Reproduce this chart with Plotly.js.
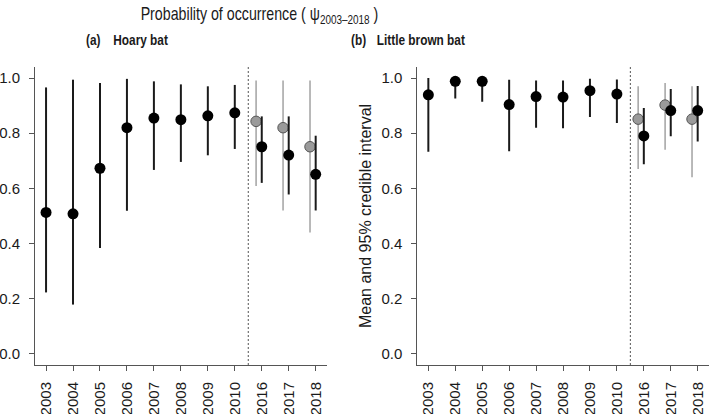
<!DOCTYPE html>
<html>
<head>
<meta charset="utf-8">
<script src="https://cdn.plot.ly/plotly-3.0.1.min.js"></script>
<style>html,body{margin:0;padding:0;background:#fff;}#chart{width:709px;height:414px;}</style>
</head>
<body>
<div id="chart"></div>
<script>
// ---- data ----
const years = ['2003','2004','2005','2006','2007','2008','2009','2010','2016','2017','2018'];

const hoaryMean = [0.513,0.508,0.673,0.820,0.855,0.849,0.863,0.874,0.751,0.721,0.651];
const hoaryLow  = [0.223,0.179,0.384,0.519,0.667,0.696,0.720,0.743,0.620,0.578,0.520];
const hoaryHigh = [0.966,0.994,0.982,0.997,0.988,0.977,0.970,0.975,0.861,0.861,0.791];

const altYears = ['2016','2017','2018'];
const hoaryAltMean = [0.843,0.820,0.751];
const hoaryAltLow  = [0.609,0.520,0.440];
const hoaryAltHigh = [0.991,0.991,0.991];

const lbbMean = [0.939,0.988,0.988,0.904,0.933,0.931,0.954,0.942,0.790,0.882,0.882];
const lbbLow  = [0.733,0.926,0.914,0.735,0.820,0.818,0.859,0.837,0.688,0.789,0.770];
const lbbHigh = [1.000,0.998,0.999,0.994,0.991,0.991,0.997,0.995,0.891,0.960,0.971];

const lbbAltMean = [0.851,0.902,0.851];
const lbbAltLow  = [0.670,0.740,0.640];
const lbbAltHigh = [0.970,0.982,0.970];

const yTicks = [0,0.2,0.4,0.6,0.8,1.0];
const yTickText = ['0.0','0.2','0.4','0.6','0.8','1.0'];

// ---- helpers ----
const W = 709, H = 414;
const idx = years.map((_, i) => i);
const altIdx = altYears.map(y => years.indexOf(y) - 0.21);
const plus = (hi, m) => hi.map((v, i) => v - m[i]);
const minus = (lo, m) => m.map((v, i) => v - lo[i]);

function blackTrace(mean, lo, hi, xa, ya) {
  return {
    x: idx, y: mean, xaxis: xa, yaxis: ya, type: 'scatter', mode: 'markers',
    marker: {color: '#000', size: 11, line: {width: 0}},
    error_y: {type: 'data', symmetric: false, array: plus(hi, mean), arrayminus: minus(lo, mean),
              width: 0, thickness: 2, color: '#1a1a1a'},
    showlegend: false, hoverinfo: 'skip'
  };
}
function greyTrace(mean, lo, hi, xa, ya) {
  return {
    x: altIdx, y: mean, xaxis: xa, yaxis: ya, type: 'scatter', mode: 'markers',
    marker: {color: '#9a9a9a', size: 10.5, line: {width: 1, color: '#555'}},
    error_y: {type: 'data', symmetric: false, array: plus(hi, mean), arrayminus: minus(lo, mean),
              width: 0, thickness: 1.6, color: '#a8a8a8'},
    showlegend: false, hoverinfo: 'skip'
  };
}

const data = [
  greyTrace(hoaryAltMean, hoaryAltLow, hoaryAltHigh, 'x', 'y'),
  blackTrace(hoaryMean, hoaryLow, hoaryHigh, 'x', 'y'),
  greyTrace(lbbAltMean, lbbAltLow, lbbAltHigh, 'x2', 'y2'),
  blackTrace(lbbMean, lbbLow, lbbHigh, 'x2', 'y2')
];

const tickFont = {family: 'Liberation Sans, Arial, sans-serif', size: 15, color: '#1a1a1a'};
const yDom = [(H - 365) / H, (H - 67) / H];

function xAxis(d, anchor) {
  return {
    domain: d, anchor: anchor, range: [-0.41, 10.42],
    tickmode: 'array', tickvals: idx, ticktext: years, tickangle: -90,
    ticks: 'outside', ticklen: 5, tickcolor: '#555', tickwidth: 1,
    showline: true, linecolor: '#555', linewidth: 1,
    showgrid: false, zeroline: false, tickfont: tickFont, ticklabelstandoff: 5
  };
}
function yAxis(anchor) {
  return {
    domain: yDom, anchor: anchor, range: [-0.04, 1.04],
    tickmode: 'array', tickvals: yTicks, ticktext: yTickText,
    ticks: 'outside', ticklen: 5, tickcolor: '#555', tickwidth: 1,
    showline: true, linecolor: '#555', linewidth: 1,
    showgrid: false, zeroline: false, tickfont: tickFont, ticklabelstandoff: 6
  };
}

const sans = 'Liberation Sans, Arial, sans-serif';
const condensed = 0.79;  // reference uses a narrow face; emulate by horizontal compression

const layout = {
  width: W, height: H,
  margin: {l: 0, r: 0, t: 0, b: 0},
  paper_bgcolor: '#fff', plot_bgcolor: '#fff',
  xaxis: xAxis([35 / W, 327 / W], 'y'),
  yaxis: yAxis('x'),
  xaxis2: xAxis([417.3 / W, 1], 'y2'),
  yaxis2: yAxis('x2'),
  shapes: [
    {type: 'line', xref: 'x', yref: 'y', x0: 7.5, x1: 7.5, y0: -0.04, y1: 1.04,
     line: {color: '#555', width: 1, dash: '2px,2px'}},
    {type: 'line', xref: 'x2', yref: 'y2', x0: 7.5, x1: 7.5, y0: -0.04, y1: 1.04,
     line: {color: '#555', width: 1, dash: '2px,2px'}}
  ],
  annotations: [
    {text: 'Probability of occurrence ( ψ<sub>2003–2018</sub> )',
     xref: 'paper', yref: 'paper', x: 259 / W, y: (H - 15) / H, xanchor: 'center', yanchor: 'middle',
     showarrow: false, font: {family: sans, size: 18, color: '#1a1a1a'}},
    {text: '<b>(a)</b>', xref: 'paper', yref: 'paper', x: 93.5 / W, y: (H - 40) / H,
     xanchor: 'center', yanchor: 'middle', showarrow: false, font: {family: sans, size: 15, color: '#1a1a1a'}},
    {text: '<b>Hoary bat</b>', xref: 'paper', yref: 'paper', x: 140 / W, y: (H - 40) / H,
     xanchor: 'center', yanchor: 'middle', showarrow: false, font: {family: sans, size: 15, color: '#1a1a1a'}},
    {text: '<b>(b)</b>', xref: 'paper', yref: 'paper', x: 358.3 / W, y: (H - 40) / H,
     xanchor: 'center', yanchor: 'middle', showarrow: false, font: {family: sans, size: 15, color: '#1a1a1a'}},
    {text: '<b>Little brown bat</b>', xref: 'paper', yref: 'paper', x: 421.2 / W, y: (H - 40) / H,
     xanchor: 'center', yanchor: 'middle', showarrow: false, font: {family: sans, size: 15, color: '#1a1a1a'}},
    {text: 'Mean and 95% credible interval', xref: 'paper', yref: 'paper', x: 365 / W, y: (H - 216) / H,
     xanchor: 'center', yanchor: 'middle', textangle: -90, showarrow: false,
     font: {family: sans, size: 16, color: '#1a1a1a'}}
  ]
};

Plotly.newPlot('chart', data, layout, {displayModeBar: false, staticPlot: true}).then(gd => {
  const anns = gd.querySelectorAll('g.annotation');
  for (let i = 0; i < 5 && i < anns.length; i++) {
    const t = anns[i].querySelector('text.annotation-text');
    if (!t) continue;
    const bb = t.getBBox();
    const cx = bb.x + bb.width / 2;
    const prev = t.getAttribute('transform') || '';
    t.setAttribute('transform', prev + ` translate(${cx},0) scale(${condensed},1) translate(${-cx},0)`);
  }
});
</script>
</body>
</html>
